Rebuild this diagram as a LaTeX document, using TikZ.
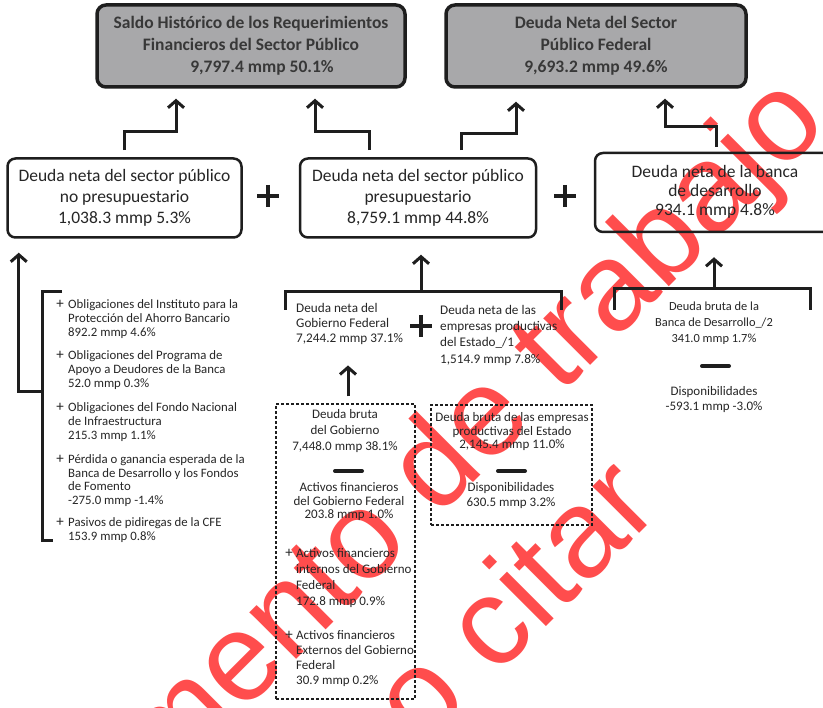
\documentclass[tikz,border=0pt]{standalone}
\usepackage{fontspec}
\setmainfont{Carlito}
\newfontfamily\wmfont{Liberation Sans}
\usetikzlibrary{arrows.meta,calc}
\definecolor{ink}{HTML}{262626}
\definecolor{linec}{HTML}{1E1E1E}
\definecolor{boxgray}{HTML}{A8A8AA}
\definecolor{hdrtext}{HTML}{383838}
\definecolor{wmred}{HTML}{FF4D4D}
\newcommand{\tl}[1]{\begin{tabular}[t]{@{}l@{}}#1\end{tabular}}
\newcommand{\tc}[1]{\begin{tabular}[t]{@{}c@{}}#1\end{tabular}}
\newcommand{\mc}[1]{\begin{tabular}{@{}c@{}}#1\end{tabular}}
\tikzset{
  hdr/.style={draw=linec, line width=3.5pt, rounded corners=9pt, fill=boxgray,
    minimum height=82pt, inner sep=0pt, text=hdrtext,
    font=\bfseries\fontsize{17.5}{22}\selectfont},
  midbox/.style={draw=linec, line width=2.5pt, rounded corners=8pt,
    minimum height=79pt, inner sep=0pt, text=ink,
    font=\fontsize{17.5}{21}\selectfont},
  conn/.style={draw=linec, line width=3pt,
    -{Straight Barb[length=7pt,width=16pt,line width=3pt]}},
  brk/.style={draw=linec, line width=3pt},
  dbox/.style={draw=linec, line width=1.1pt, dash pattern=on 3pt off 2pt, inner sep=0pt},
  minusbar/.style={draw=linec, line width=4pt, line cap=round},
  plusbar/.style={draw=linec, line width=4.5pt},
  txl/.style={inner sep=0pt, text=ink, anchor=base west},
  txc/.style={inner sep=0pt, text=ink, anchor=base},
  f11/.style={font=\fontsize{12.8}{14}\selectfont},
  smallplus/.style={inner sep=0pt, text=ink, anchor=base, font=\fontsize{15}{15}\selectfont},
  wm/.style={inner sep=0pt, text=wmred, anchor=base, rotate=45,
    font=\wmfont\fontsize{125}{125}\selectfont}
}
\begin{document}
\begin{tikzpicture}[x=1pt,y=-1pt]
\useasboundingbox (0,0) rectangle (823,708);
\clip (0,0) rectangle (823,708);
\fill[white] (0,0) rectangle (823,708);

% watermark
\node[wm] (W1) at (396,560) {Documento de trabajo};
\node[wm] (W2) at (518,655) {no citar};

% top boxes
\node[hdr, minimum width=308pt] (T1) at (251,46)
  {\mc{Saldo Histórico de los Requerimientos\\Financieros del Sector Público\\\hspace*{22pt}9,797.4 mmp 50.1\%}};
\node[hdr, minimum width=300pt] (T2) at (596,46)
  {\mc{Deuda Neta del Sector\\Público Federal\\9,693.2 mmp 49.6\%}};

% middle boxes
\node[midbox, minimum width=234pt] (A) at (124.5,198)
  {\mc{Deuda neta del sector público\\no presupuestario\\1,038.3 mmp 5.3\%}};
\node[midbox, minimum width=236pt] (B) at (418,198)
  {\mc{Deuda neta del sector público\\presupuestario\\8,759.1 mmp 44.8\%}};
\node[midbox, minimum width=240pt, font=\fontsize{17.5}{19}\selectfont] (C) at (715,192.5)
  {\mc{Deuda neta de la banca\\de desarrollo\\934.1 mmp 4.8\%}};

% big plus signs
\coordinate (P1) at (268,196);
\coordinate (P2) at (565,196);
\foreach \p in {P1,P2}{
  \draw[plusbar] ($(\p)+(-11,0)$) -- ($(\p)+(11,0)$);
  \draw[plusbar] ($(\p)+(0,-11)$) -- ($(\p)+(0,11)$);
}

% connectors to top boxes
\draw[conn] ($(A.north)+(0,-7)$) -- ++(0,-19) -| ($(T1.south)+(-75,10)$);
\draw[conn] ($(B.north)+(-49,-7)$) -- ++(0,-19) -| ($(T1.south)+(64,10)$);
\draw[conn] ($(B.north)+(43,-7)$) -- ++(0,-17) -| ($(T2.south)+(-80,13)$);
\draw[conn] ($(C.north)+(1,-5)$) -- ++(0,-20) -| ($(T2.south)+(69,10)$);

% left list
\coordinate (LB) at (42,392);
\draw[brk] (62,292) -- (42,292) -- (42,541) -- (53,541);
\draw[conn] (LB) -| ($(A.south west)+(12.5,14)$);

\node[smallplus] (lp1) at (60,309) {+};
\node[txl,f11] (l1) at (68,309) {\tl{Obligaciones del Instituto para la\\Protección del Ahorro Bancario\\892.2 mmp 4.6\%}};
\node[smallplus] (lp2) at (60,360) {+};
\node[txl,f11] (l2) at (68,360) {\tl{Obligaciones del Programa de\\Apoyo a Deudores de la Banca\\52.0 mmp 0.3\%}};
\node[smallplus] (lp3) at (60,412) {+};
\node[txl,f11] (l3) at (68,412) {\tl{Obligaciones del Fondo Nacional\\de Infraestructura\\215.3 mmp 1.1\%}};
\node[smallplus] (lp4) at (60,464) {+};
\node[txl,font=\fontsize{12.8}{13.5}\selectfont] (l4) at (68,464) {\tl{Pérdida o ganancia esperada de la\\Banca de Desarrollo y los Fondos\\de Fomento\\-275.0 mmp -1.4\%}};
\node[smallplus] (lp5) at (60,527) {+};
\node[txl,f11] (l5) at (68,527) {\tl{Pasivos de pidiregas de la CFE\\153.9 mmp 0.8\%}};

% middle section under B
\coordinate (MB) at (421,292);
\draw[brk] (285,310) |- (561,292) -- ++(0,18);
\draw[conn] (MB) -- ($(B.south)+(3,16)$);
\node[txl,font=\fontsize{13.2}{15}\selectfont] (GF) at (296,312.2)
  {\tl{Deuda neta del\\Gobierno Federal\\7,244.2 mmp 37.1\%}};
\node[txl,font=\fontsize{13.2}{16.3}\selectfont] (EP) at (440,314.2)
  {\tl{Deuda neta de las\\empresas productivas\\del Estado\_/1\\1,514.9 mmp 7.8\%}};
\coordinate (P3) at (421,326);
\draw[plusbar] ($(P3)+(-11,0)$) -- ($(P3)+(11,0)$);
\draw[plusbar] ($(P3)+(0,-11)$) -- ($(P3)+(0,11)$);

% right section under C
\coordinate (RB) at (714,289);
\draw[brk] (614,310) |- (810,289) -- ++(0,21);
\draw[conn] (RB) -- ($(C.south)+(-1,24)$);
\node[txc,font=\fontsize{12.4}{16}\selectfont] (BD) at (714,310.9)
  {\tc{Deuda bruta de la\\Banca de Desarrollo\_/2\\341.0 mmp 1.7\%}};
\draw[minusbar] (702,366) -- (729,366);
\node[txc,font=\fontsize{13}{14.5}\selectfont] (DR) at (714,396)
  {\tc{Disponibilidades\\-593.1 mmp -3.0\%}};

% dashed box 1
\node[dbox, minimum width=139pt, minimum height=295pt] (DB1) at (345.5,551.5) {};
\draw[conn] ($(DB1.north)+(2.5,-7)$) -- ($(DB1.north)+(2.5,-38)$);
\node[txc,font=\fontsize{13}{16}\selectfont] (DG) at (345,419)
  {\tc{Deuda bruta\\del Gobierno\\7,448.0 mmp 38.1\%}};
\draw[minusbar] (335,471) -- (362,471);
\node[txc,font=\fontsize{13}{13.5}\selectfont] (AF) at (349,492)
  {\tc{Activos financieros\\del Gobierno Federal\\203.8 mmp 1.0\%}};
\node[smallplus] (ap1) at (289,558) {+};
\node[txl,font=\fontsize{13}{15.7}\selectfont] (AI) at (296,558)
  {\tl{Activos financieros\\internos del Gobierno\\Federal\\172.8 mmp 0.9\%}};
\node[smallplus] (ap2) at (289,640) {+};
\node[txl,font=\fontsize{13}{15}\selectfont] (AE) at (296,640)
  {\tl{Activos financieros\\Externos del Gobierno\\Federal\\30.9 mmp 0.2\%}};

% dashed box 2
\node[dbox, minimum width=161pt, minimum height=120pt] (DB2) at (511.5,465) {};
\node[txc,font=\fontsize{13}{13.5}\selectfont] (DE) at (512,422)
  {\tc{Deuda bruta de las empresas\\productivas del Estado\\2,145.4 mmp 11.0\%}};
\draw[minusbar] (498,471) -- (525,471);
\node[txc,font=\fontsize{13}{15}\selectfont] (DP) at (511,492)
  {\tc{Disponibilidades\\630.5 mmp 3.2\%}};
\end{tikzpicture}
\end{document}
